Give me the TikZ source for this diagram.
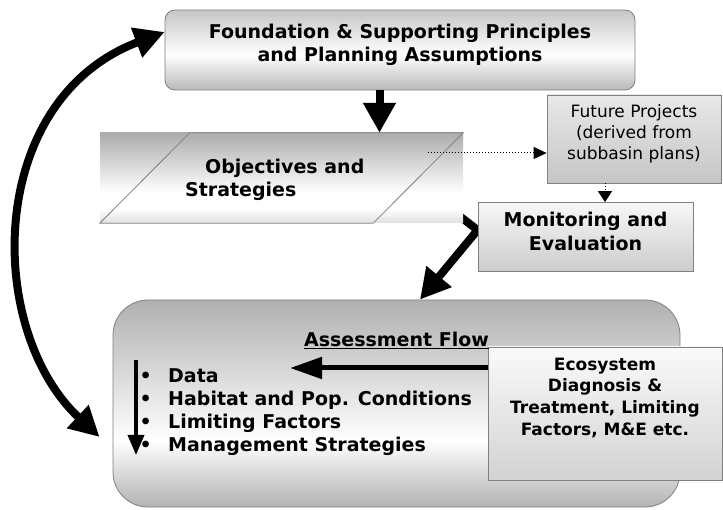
\documentclass[tikz,border=0pt]{standalone}
\usepackage{fontspec}
\setmainfont{DejaVu Sans}
\usepackage{tikz}
\usetikzlibrary{arrows.meta}
\usetikzlibrary{backgrounds}
\usetikzlibrary{calc}
\usetikzlibrary{positioning}
\pgfdeclareverticalshading{foundshade}{100bp}{color(0bp)=(gray!55); color(25bp)=(gray!55); color(47bp)=(white); color(75bp)=(gray!45); color(100bp)=(gray!45)}
\pgfdeclareverticalshading{objshade}{100bp}{color(0bp)=(gray!25); color(25bp)=(gray!25); color(33bp)=(white); color(42bp)=(white); color(75bp)=(gray!65); color(100bp)=(gray!65)}
\pgfdeclareverticalshading{assessshade}{100bp}{color(0bp)=(gray!60); color(25bp)=(gray!60); color(41bp)=(white); color(75bp)=(gray!62); color(100bp)=(gray!62)}
\newcommand{\Bul}{\makebox[28.5pt][l]{\textbullet}}
\tikzset{
  Box/.style={draw=gray, line width=0.8pt, inner sep=0pt}, % Kasten ohne Text
  Bold/.style={font=\fontsize{19}{23.5}\selectfont\bfseries, inner sep=0pt},
  Small/.style={font=\fontsize{17}{21}\selectfont, inner sep=0pt},
  BigArrow/.style={line width=8pt,-{Triangle[length=30pt,width=31pt]}}, % dicke Pfeile
  DotArrow/.style={dash pattern=on 1pt off 2pt, line width=1pt,-{Triangle[length=13pt,width=12pt]}},
  ListArrow/.style={line width=3.5pt,-{Triangle[length=20pt,width=16pt]}}
}

\begin{document}
\begin{tikzpicture}[x=1pt,y=-1pt,
font=\fontsize{19}{23.5}\selectfont,
>=latex % Voreinstellung fuer Pfeilspitzen
]
\useasboundingbox (0,0) rectangle (723,510);

%Kaesten
\node[Box, rounded corners=10pt, shading=foundshade, shade,
  minimum width=470pt, minimum height=80pt] (found) at (400,50) {};
\node[draw=none, shading=objshade, shade, inner sep=0pt,
  minimum width=363pt, minimum height=90pt] (objbg) at (281.5,178) {};
\draw[gray, line width=0.8pt] (objbg.south west) -- ([xshift=90pt]objbg.north west)
  -- (objbg.north east) -- ([xshift=-90pt]objbg.south east) -- cycle;
\node[Box, top color=gray!18, bottom color=gray!45,
  minimum width=174pt, minimum height=88pt] (fut) at (634,139) {};
\node[Box, top color=gray!6, bottom color=gray!40,
  minimum width=215pt, minimum height=69pt] (mon) at (585.5,237) {};
\node[Box, rounded corners=35pt, shading=assessshade, shade,
  minimum width=567pt, minimum height=207pt] (assess) at (396.5,403.5) {};
\node[Box, top color=gray!4, bottom color=gray!35,
  minimum width=234pt, minimum height=133pt] (eco) at (605,413.5) {};

%Texte
\node[Bold, align=center, below=14pt of found.north] (foundtxt)
  {Foundation \& Supporting Principles\\and Planning Assumptions};
\node[Bold, align=left, anchor=west] (obj) at (185,180)
  {\hspace*{20pt}Objectives and\\Strategies};
\node[Small, align=center, below=10pt of fut.north] (futtxt)
  {Future Projects\\(derived from\\subbasin plans)};
\node[Bold, align=center, below=10pt of mon.north] (montxt)
  {Monitoring and\\Evaluation};
\node[Bold, below=32pt of assess.north] (assesstxt) {\underline{Assessment Flow}};
\node[Small, font=\fontsize{17}{21.7}\selectfont\bfseries, align=center,
  below=11pt of eco.north] (ecotxt)
  {Ecosystem\\Diagnosis \&\\Treatment, Limiting\\Factors, M\&E etc.};
\node[Bold, font=\fontsize{19}{23}\selectfont\bfseries, align=left, anchor=west] (items)
  at (139.5,412.5)
  {\Bul Data\\\Bul Habitat and Pop. Conditions\\\Bul Limiting Factors\\\Bul Management Strategies};

%Pfeile
\draw[BigArrow] ([xshift=-20.5pt]found.south) -- ([xshift=-20.5pt]found.south |- objbg.north);
\coordinate (dotstart) at (428,153);
\draw[DotArrow] (dotstart) -- (dotstart -| fut.west);
\coordinate (futfoot) at ([xshift=-29pt]fut.south);
\draw[DotArrow, -{Triangle[length=11pt,width=14pt]}] (futfoot) -- (futfoot |- mon.north);
\begin{pgfonlayer}{background}
\draw[BigArrow, line join=miter] ($(objbg.south east)+(-23,-22)$) -- ([yshift=7pt]mon.west)
  -- ([xshift=23.5pt]assess.north);
\end{pgfonlayer}
\coordinate (datatip) at (290,368);
\draw[line width=5pt,-{Triangle[length=32pt,width=21pt]}] (datatip -| eco.west) -- (datatip);
\coordinate (flowtop) at (136,360);
\coordinate (flowend) at (136,455);
\draw[ListArrow] (flowtop) -- (flowend);
\draw[line width=8pt,{Triangle[length=30pt,width=30pt]}-{Triangle[length=30pt,width=30pt]}]
  ([xshift=-13pt,yshift=-33.5pt]assess.west) .. controls (-15,330) and (-15,100) ..
  ([yshift=18pt]found.west);

\end{tikzpicture}
\end{document}
